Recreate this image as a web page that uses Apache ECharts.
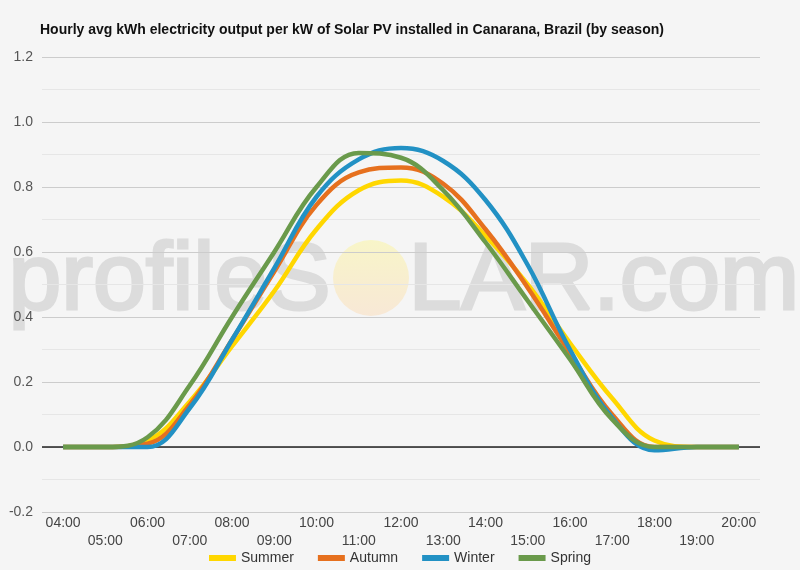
<!DOCTYPE html>
<html>
<head>
<meta charset="utf-8">
<script src="https://cdn.jsdelivr.net/npm/echarts@6/dist/echarts.min.js"></script>
<style>
html,body{margin:0;padding:0;background:#f5f5f5;}
#chart{width:800px;height:570px;}
</style>
</head>
<body>
<div id="chart"></div>
<script>
var hours = ['04:00','05:00','06:00','07:00','08:00','09:00','10:00','11:00','12:00','13:00','14:00','15:00','16:00','17:00','18:00','19:00','20:00'];
var summer = [0, 0, 0.02, 0.14, 0.31, 0.48, 0.67, 0.79, 0.82, 0.77, 0.65, 0.50, 0.32, 0.15, 0.02, 0, 0];
var autumn = [0, 0, 0.01, 0.13, 0.33, 0.54, 0.745, 0.845, 0.86, 0.81, 0.67, 0.49, 0.29, 0.10, 0.0, 0, 0];
var winter = [0, 0, 0.0, 0.12, 0.33, 0.55, 0.77, 0.885, 0.92, 0.88, 0.76, 0.56, 0.30, 0.09, -0.01, 0, 0];
var spring = [0, 0, 0.03, 0.19, 0.40, 0.60, 0.80, 0.905, 0.89, 0.79, 0.63, 0.45, 0.27, 0.085, 0.0, 0, 0];
var seriesNames = ['Summer','Autumn','Winter','Spring'];
var seriesColors = ['#FFD700','#E6701E','#2291C4','#6A9A4B'];
var seriesData = [summer, autumn, winter, spring];

var chart = echarts.init(document.getElementById('chart'), null, {renderer:'canvas'});
var series = seriesData.map(function(d, i){
  var s = {
    name: seriesNames[i], type:'line', data:d, smooth:0.4, symbol:'none',
    lineStyle:{width:4.5, color:seriesColors[i]}, itemStyle:{color:seriesColors[i]}, z:5
  };
  if (i === 0) {
    s.markLine = {silent:true, symbol:'none', label:{show:false},
      lineStyle:{color:'#222', width:1.5, type:'solid'}, data:[{yAxis:0}], z:2};
  }
  return s;
});

var wmStyle = {font:'95px "Liberation Sans", Arial', fill:'#dcdcdc', stroke:'#dcdcdc', lineWidth:3};
var option = {
  backgroundColor:'#f5f5f5',
  animation:false,
  title:{text:'Hourly avg kWh electricity output per kW of Solar PV installed in Canarana, Brazil (by season)',
    left:35, top:18, textStyle:{fontFamily:'Liberation Sans, Arial', fontSize:14, fontWeight:'bold', color:'#111'}},
  grid:{left:42, right:40, top:57, bottom:58},
  legend:{top:551, left:'center', padding:0, itemWidth:27, itemHeight:6, itemGap:24, icon:'rect',
    textStyle:{fontFamily:'Liberation Sans, Arial', fontSize:14, color:'#333'},
    data:seriesNames},
  graphic:[
    {type:'text', left:7, top:234, z:-10, silent:true, style:Object.assign({text:'profileS'}, wmStyle)},
    {type:'circle', shape:{cx:371, cy:278, r:38}, z:-10, silent:true,
      style:{fill:new echarts.graphic.LinearGradient(0,0,0,1,[{offset:0,color:'#f8f5c8'},{offset:1,color:'#f8e8d6'}])}},
    {type:'text', left:407, top:234, z:-10, silent:true, style:Object.assign({text:'LAR.com'}, wmStyle)}
  ],
  xAxis:{type:'category', data:hours, boundaryGap:true,
    axisLine:{show:false}, axisTick:{show:false},
    axisLabel:{interval:0, fontFamily:'Liberation Sans, Arial', fontSize:14, color:'#444', margin:2, lineHeight:18,
      formatter:function(v, i){ return i % 2 === 1 ? '\n' + v : v; }}},
  yAxis:{type:'value', min:-0.2, max:1.2, interval:0.2,
    axisLine:{show:false}, axisTick:{show:false},
    axisLabel:{fontFamily:'Liberation Sans, Arial', fontSize:14, color:'#555', margin:9,
      formatter:function(v){ return v.toFixed(1); }},
    splitLine:{lineStyle:{color:'#cccccc', width:1}},
    minorTick:{show:false, splitNumber:2},
    minorSplitLine:{show:true, lineStyle:{color:'#e6e6e6', width:1}}},
  series:series
};
chart.setOption(option);
</script>
</body>
</html>
